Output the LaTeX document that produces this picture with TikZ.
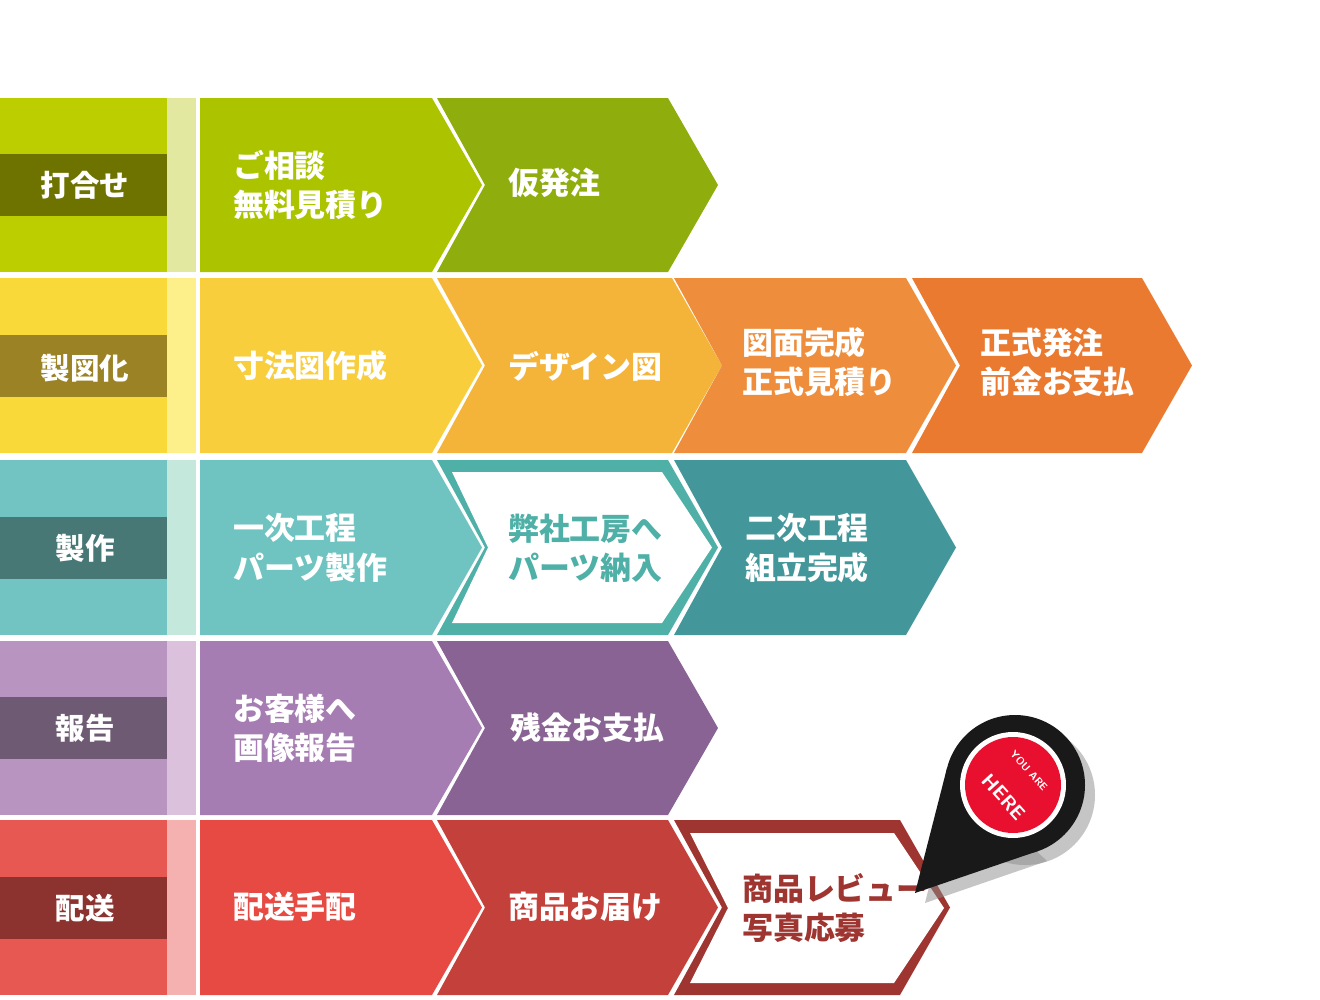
\documentclass[tikz,border=0pt]{standalone}
\usepackage{fontspec}
\newfontfamily\cjk{Noto Sans CJK JP}[BoldFont={Noto Sans CJK JP Black}]
\usetikzlibrary{positioning}
\definecolor{gA}{HTML}{BCCD00}\definecolor{gD}{HTML}{6E7300}\definecolor{gS}{HTML}{E3E8A0}
\definecolor{gB}{HTML}{ACC400}\definecolor{gC}{HTML}{8FAE0E}
\definecolor{yA}{HTML}{F9D839}\definecolor{yD}{HTML}{9A8225}\definecolor{yS}{HTML}{FDF08A}
\definecolor{yB}{HTML}{F8CE3C}\definecolor{yC}{HTML}{F4B43A}\definecolor{yE}{HTML}{EE8E3C}\definecolor{yF}{HTML}{E97A30}
\definecolor{tA}{HTML}{71C4C1}\definecolor{tD}{HTML}{487876}\definecolor{tS}{HTML}{C5E8DC}
\definecolor{tB}{HTML}{6FC3C0}\definecolor{tE}{HTML}{4FB0A8}\definecolor{tC}{HTML}{43979A}
\definecolor{pA}{HTML}{B795C0}\definecolor{pD}{HTML}{6E5A72}\definecolor{pS}{HTML}{DCC1DD}
\definecolor{pB}{HTML}{A57DB2}\definecolor{pC}{HTML}{886393}
\definecolor{rA}{HTML}{E85853}\definecolor{rD}{HTML}{8C3330}\definecolor{rS}{HTML}{F5B0B0}
\definecolor{rB}{HTML}{E64A43}\definecolor{rC}{HTML}{C4403A}\definecolor{rE}{HTML}{9E3530}
\definecolor{pinred}{HTML}{E8102E}
% chevron: colour, left x, flat right x, top y, bottom y, notch depth
\newcommand\chevron[6]{%
  \fill[#1] (#2,#4) -- (#3,#4) -- ({#3+50},{(#4+#5)/2}) -- (#3,#5) -- (#2,#5)
    -- ({#2+#6},{(#4+#5)/2}) -- cycle;}
\tikzset{
  steptext/.style={text=white, font=\cjk\bfseries\fontsize{44}{56}\selectfont, align=left, anchor=west, inner sep=0pt},
  rowlabel/.style={text=white, font=\cjk\bfseries\fontsize{42}{50}\selectfont, inner sep=0pt},
}
\begin{document}
\begin{tikzpicture}[x=0.05cm,y=-0.05cm]
  \useasboundingbox (0,0) rectangle (1320,1000);
  \fill[white] (0,0) rectangle (1320,1000);
  % row bands
  \foreach \c/\s/\d/\t/\b in {gA/gS/gD/98/272, yA/yS/yD/278/453, tA/tS/tD/460/635, pA/pS/pD/641/815, rA/rS/rD/820/995}{
    \fill[\c] (0,\t) rectangle (167,\b);
    \fill[\s] (167,\t) rectangle (196,\b);
    \fill[\d] (0,{(\t+\b)/2-31}) rectangle (167,{(\t+\b)/2+31});
  }
  \node[rowlabel] (l1) at (85,185) {打合せ};
  \node[rowlabel] (l2) at (85,368) {製図化};
  \node[rowlabel] (l3) at (85,548) {製作};
  \node[rowlabel] (l4) at (85,728) {報告};
  \node[rowlabel] (l5) at (85,908) {配送};
  % row 1
  \chevron{gB}{200}{432}{98}{272}{0}
  \chevron{gC}{437}{668}{98}{272}{48}
  \node[steptext] (a1) at (233,185) {ご相談\\無料見積り};
  \node[steptext] (a2) at (508,183) {仮発注};
  % row 2
  \chevron{yB}{200}{432}{278}{453}{0}
  \chevron{yC}{437}{672}{278}{453}{48}
  \chevron{yE}{674}{906}{278}{453}{48}
  \chevron{yF}{912}{1142}{278}{453}{48}
  \node[steptext] (b1) at (233,366) {寸法図作成};
  \node[steptext] (b2) at (508,366) {デザイン図};
  \node[steptext] (b3) at (742,362) {図面完成\\正式見積り};
  \node[steptext] (b4) at (980,362) {正式発注\\前金お支払};
  % row 3
  \chevron{tB}{200}{432}{460}{635}{0}
  \chevron{tE}{437}{668}{460}{635}{48}
  \chevron{white}{452}{662}{472}{623}{36}
  \chevron{tC}{674}{906}{460}{635}{48}
  \node[steptext] (c1) at (233,548) {一次工程\\パーツ製作};
  \node[steptext, text=tE] (c2) at (508,548) {弊社工房へ\\パーツ納入};
  \node[steptext] (c3) at (745,548) {二次工程\\組立完成};
  % row 4
  \chevron{pB}{200}{432}{641}{815}{0}
  \chevron{pC}{437}{668}{641}{815}{48}
  \node[steptext] (d1) at (233,728) {お客様へ\\画像報告};
  \node[steptext] (d2) at (510,728) {残金お支払};
  % row 5
  \chevron{rB}{200}{432}{820}{995}{0}
  \chevron{rC}{437}{668}{820}{995}{48}
  \chevron{rE}{674}{900}{820}{995}{48}
  \chevron{white}{690}{894}{833}{983}{38}
  \node[steptext] (e1) at (233,907) {配送手配};
  \node[steptext] (e2) at (508,907) {商品お届け};
  \node[steptext, text=rE] (e3) at (742,908) {商品レビュー\\写真応募};
  % pin
  \fill[black!45, opacity=0.5] (925,903) -- (957,777) -- (1047,861) -- cycle;
  \fill[black!45, opacity=0.5] (1025,795) circle (70);
  \fill[black!90] (915,893) -- (947,768) -- (1038,851) -- cycle;
  \fill[black!90] (1015,785) circle (70);
  \fill[white] (1013,785) circle (53);
  \fill[pinred] (1013,785) circle (48);
  \node[text=white, font=\sffamily\bfseries\fontsize{15}{15}\selectfont, rotate=-48, inner sep=0pt] (you) at (1029,771) {YOU ARE};
  \node[text=white, font=\sffamily\bfseries\fontsize{28}{28}\selectfont, rotate=-48, inner sep=0pt] (here) at (1004,797) {HERE};
\end{tikzpicture}
\end{document}
